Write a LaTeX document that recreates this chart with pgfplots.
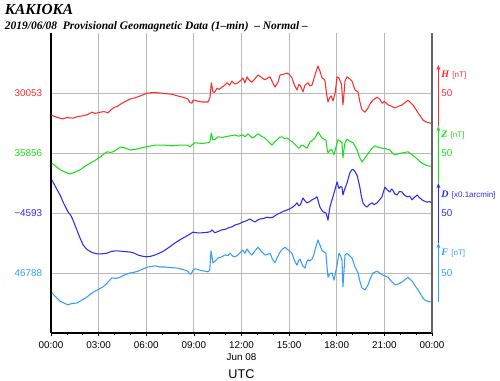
\documentclass[border=0pt]{standalone}
\usepackage{pgfplots}
\pgfplotsset{compat=1.18}
\usetikzlibrary{arrows.meta}
\usepackage{fontspec}
\setmainfont{Liberation Serif}
\setsansfont{Liberation Sans}
\definecolor{hcol}{RGB}{255,45,45}
\definecolor{zcol}{RGB}{25,225,25}
\definecolor{dcol}{RGB}{45,45,240}
\definecolor{fcol}{RGB}{55,155,255}
\definecolor{gridc}{RGB}{185,185,185}
\definecolor{rgrey}{RGB}{100,100,100}
\begin{document}
\begin{tikzpicture}
\useasboundingbox (0,0) rectangle (375pt,285.75pt);
\node[anchor=base west, inner sep=0, font=\bfseries\itshape\fontsize{11.5}{12}\selectfont] at (3.5pt,275pt) {KAKIOKA};
\node[anchor=base west, inner sep=0, font=\bfseries\itshape\fontsize{8.6}{10}\selectfont] at (3.5pt,263.5pt) {2019/06/08\ \ Provisional Geomagnetic Data (1–min)\ \ – Normal –};
\begin{axis}[
  at={(38.25pt,36pt)}, anchor=south west,
  scale only axis, width=285.75pt, height=225pt,
  xmin=0, xmax=24, ymin=0, ymax=500,
  axis x line*=bottom, axis y line*=left,
  axis line style={black, line width=0.9pt},
  xtick={0,3,6,9,12,15,18,21,24},
  xticklabels={00:00,03:00,06:00,09:00,12:00,15:00,18:00,21:00,00:00},
  minor x tick num=2,
  ytick={100,200,300,400},
  yticklabels={\textcolor{fcol}{46788},\textcolor{dcol}{−4593},\textcolor{zcol}{35856},\textcolor{hcol}{30053}},
  tick align=outside,
  major tick length=2.6pt, minor tick length=1.5pt,
  tick style={black, line width=0.5pt},
  ytick style={draw=none},
  grid=major,
  major grid style={gridc, line width=0.7pt},
  tick label style={font=\sffamily\fontsize{7.4}{9}\selectfont},
  xticklabel style={yshift=-0.5pt},
  yticklabel style={xshift=-0.5pt},
  xlabel={UTC},
  xlabel style={font=\sffamily\fontsize{9.5}{11}\selectfont, yshift=-8.5pt},
  clip=false,
  every axis plot/.append style={line width=0.8pt, line join=round},
]
\addplot[hcol] coordinates {
(0.04,363) (0.3,360) (0.57,358) (0.76,357) (1.0,359) (1.39,358) (1.7,361) (2.02,362) (2.3,364) (2.58,368) (2.8,366) (3.09,368) (3.35,369) (3.59,367) (3.91,375)
(4.2,378) (4.47,383) (4.7,386) (4.98,390) (5.3,392) (5.61,395) (5.9,398) (6.11,400) (6.55,401) (7.18,399) (7.6,398) (8.0,395) (8.3,393) (8.63,390) (8.75,384) (8.88,383) (8.95,388) (9.07,388) (9.3,386) (9.51,385) (9.89,385) (10.02,393) (10.1,417) (10.2,402) (10.3,401) (10.46,408) (10.6,406) (10.77,410) (10.9,412) (11.09,417) (11.25,413) (11.40,420) (11.59,415) (11.78,417) (11.95,421) (12.09,425)
(12.22,417) (12.35,427) (12.5,421) (12.66,418) (12.85,424) (13.04,430) (13.25,426) (13.48,422) (13.65,425) (13.80,427) (13.95,418) (14.11,410) (14.3,418) (14.43,430) (14.6,431) (14.87,433) (15.05,430) (15.18,425) (15.35,412) (15.50,405) (15.6,414) (15.69,413) (15.87,402) (16.0,413) (16.19,417) (16.3,412) (16.44,413) (16.63,430) (16.75,440) (16.82,445) (16.95,436) (17.07,425) (17.2,423) (17.26,420) (17.36,398) (17.45,385) (17.57,393) (17.65,395) (17.76,387) (17.9,400) (18.02,427) (18.14,425) (18.3,414) (18.39,380) (18.46,400) (18.52,420) (18.65,427) (18.8,424) (18.96,420) (19.15,405) (19.34,402) (19.46,385) (19.59,372) (19.78,368) (19.97,375) (20.1,382) (20.28,388) (20.54,393) (20.7,390) (20.85,383) (21.0,386) (21.23,380) (21.45,378) (21.67,375) (21.9,378) (22.11,380) (22.3,384) (22.49,388) (22.65,384) (22.80,380) (22.95,374) (23.12,367) (23.3,360) (23.43,355) (23.6,352) (23.87,350) (24.0,349)};
\addplot[zcol] coordinates {
(0.06,283) (0.3,278) (0.57,272) (0.9,268) (1.20,265) (1.5,268) (1.83,272) (2.1,277) (2.46,283) (2.8,288) (3.09,293) (3.3,298) (3.53,302) (3.75,301) (3.91,302) (4.15,306) (4.35,310) (4.6,309) (4.98,305) (5.3,306) (5.61,308) (6.11,311) (6.55,313) (7.18,313) (7.6,312) (8.0,313) (8.4,313) (8.63,313) (8.76,310) (8.9,314) (9.07,317) (9.5,316) (9.89,317) (10.0,318) (10.1,333) (10.2,322) (10.35,323) (10.52,327) (10.8,326) (11.15,328) (11.4,329) (11.59,330) (11.8,328) (12.09,330)
(12.22,327) (12.41,332) (12.55,328) (12.72,325) (12.9,329) (13.04,332) (13.25,328) (13.48,325) (13.7,319) (13.92,313) (14.08,318) (14.24,322) (14.4,326) (14.55,327) (14.7,324) (14.87,325) (15.05,321) (15.24,318) (15.45,312) (15.62,308) (15.75,312) (15.87,313) (16.0,310) (16.13,308) (16.31,318) (16.5,322) (16.63,325) (16.75,331) (16.82,335) (16.95,330) (17.07,325) (17.2,323) (17.32,322) (17.4,306) (17.45,300) (17.6,306) (17.70,305) (17.83,297) (17.95,310) (18.08,322) (18.2,320) (18.33,317) (18.39,292) (18.45,305) (18.52,317) (18.65,323) (18.8,320) (19.02,317) (19.15,312) (19.28,305) (19.45,292) (19.59,285) (19.78,292) (20.0,300) (20.22,308) (20.41,312) (20.6,310) (20.85,308) (21.1,307) (21.35,305) (21.5,300) (21.67,297) (21.9,299) (22.11,300) (22.3,301) (22.49,302) (22.7,298) (22.93,293) (23.15,288) (23.37,283) (23.6,280) (23.87,278) (24.0,278)};
\addplot[dcol] coordinates {
(0.06,255) (0.3,243) (0.57,230) (0.8,216) (1.07,202) (1.25,196) (1.39,188) (1.55,177) (1.70,167) (1.85,157) (2.02,147) (2.2,141) (2.33,138) (2.6,134) (2.90,132) (3.2,132) (3.53,133) (3.8,136) (4.16,137) (4.5,136) (4.98,135) (5.25,133) (5.48,130) (5.75,128) (6.05,127) (6.3,128) (6.55,130) (6.9,134) (7.18,138) (7.5,144) (7.81,150) (8.1,155) (8.44,160) (8.7,164) (8.94,168) (9.2,167) (9.51,167) (9.89,168) (10.05,169) (10.14,172) (10.25,169) (10.33,167) (10.5,169) (10.77,172) (11.0,173) (11.15,175) (11.4,177) (11.59,180) (11.85,182) (12.09,185) (12.3,187) (12.54,190) (12.7,187) (12.85,185) (13.0,188) (13.17,190) (13.4,191) (13.61,193) (13.8,192) (13.98,193) (14.2,197) (14.43,200) (14.65,203) (14.87,205) (15.05,207) (15.24,210) (15.40,214) (15.50,217) (15.6,212) (15.69,213) (15.8,220) (15.87,225) (16.0,220) (16.13,217) (16.3,219) (16.44,222) (16.6,224) (16.76,227) (16.85,218) (16.94,210) (17.05,205) (17.13,202) (17.25,201) (17.32,200) (17.4,193) (17.45,188) (17.51,200) (17.57,210) (17.68,220) (17.76,227) (17.9,240) (18.02,252) (18.08,246) (18.14,241) (18.25,244) (18.33,243) (18.39,230) (18.5,240) (18.65,250) (18.75,260) (18.83,267) (18.92,271) (19.02,273) (19.15,269) (19.28,263) (19.38,252) (19.46,242) (19.55,228) (19.65,217) (19.78,212) (19.91,210) (20.05,214) (20.22,217) (20.35,214) (20.54,217) (20.7,222) (20.85,227) (20.95,236) (21.04,243) (21.2,238) (21.35,235) (21.45,240) (21.54,238) (21.65,232) (21.80,230) (21.95,236) (22.11,235) (22.25,230) (22.43,227) (22.6,228) (22.74,222) (22.9,226) (23.06,230) (23.2,226) (23.37,222) (23.5,220) (23.69,218) (23.85,219) (24.0,217)};
\addplot[fcol] coordinates {
(0.06,67) (0.3,60) (0.57,53) (0.8,50) (1.07,47) (1.3,49) (1.64,50) (1.95,55) (2.27,60) (2.45,64) (2.65,68) (2.95,72) (3.28,77) (3.5,82) (3.84,92) (4.1,91) (4.35,93) (4.65,97) (4.98,100) (5.2,101) (5.48,103) (5.8,107) (6.11,110) (6.55,112) (6.9,110) (7.18,110) (7.6,109) (8.0,108) (8.3,106) (8.63,103) (8.72,99) (8.82,98) (8.95,105) (9.07,107) (9.5,104) (9.89,102) (10.0,105) (10.08,137) (10.2,117) (10.35,120) (10.52,125) (10.75,127) (10.96,130) (11.15,129) (11.28,133) (11.45,128) (11.59,127) (11.78,130) (11.95,135) (12.09,138)
(12.22,133) (12.35,140) (12.5,134) (12.66,130) (12.85,137) (13.04,143) (13.25,136) (13.48,130) (13.65,131) (13.80,133) (13.95,123) (14.11,117) (14.25,126) (14.43,135) (14.6,140) (14.74,143) (14.95,138) (15.18,133) (15.35,120) (15.50,113) (15.6,121) (15.69,123) (15.85,112) (16.0,108) (16.1,118) (16.19,122) (16.3,120) (16.44,123) (16.55,130) (16.63,138) (16.72,147) (16.82,155) (16.95,146) (17.07,138) (17.2,135) (17.32,133) (17.38,112) (17.45,93) (17.57,99) (17.70,100) (17.83,88) (17.92,100) (18.02,113) (18.14,133) (18.25,128) (18.33,122) (18.39,77) (18.45,100) (18.52,130) (18.65,133) (18.8,129) (18.96,125) (19.15,110) (19.34,100) (19.46,86) (19.59,75) (19.78,72) (19.97,80) (20.1,90) (20.28,100) (20.54,103) (20.7,100) (20.85,97) (21.05,95) (21.23,93) (21.45,86) (21.67,80) (21.9,82) (22.11,85) (22.3,89) (22.49,93) (22.65,89) (22.80,85) (22.95,78) (23.12,72) (23.3,64) (23.43,58) (23.6,54) (23.87,52) (24.0,52)};
% right-hand axis line and component scale bars
\draw[rgrey, line width=1.4pt] (rel axis cs:1,0) -- (rel axis cs:1,1);
\draw[hcol, line width=0.7pt, -{Stealth[length=4pt,width=3pt]}] ([xshift=4.8pt]axis cs:24,345) -- ([xshift=4.8pt]axis cs:24,447);
\draw[zcol, line width=0.7pt, -{Stealth[length=4pt,width=3pt]}] ([xshift=4.8pt]axis cs:24,250) -- ([xshift=4.8pt]axis cs:24,345);
\draw[dcol, line width=0.7pt, -{Stealth[length=4pt,width=3pt]}] ([xshift=4.8pt]axis cs:24,150) -- ([xshift=4.8pt]axis cs:24,250);
\draw[fcol, line width=0.7pt, -{Stealth[length=4pt,width=3pt]}] ([xshift=4.8pt]axis cs:24,52) -- ([xshift=4.8pt]axis cs:24,150);
\foreach \yy/\cc in {400/hcol,300/zcol,200/dcol,100/fcol}{
  \edef\tmp{\noexpand\node[anchor=west, inner sep=0, text=\cc, font=\noexpand\sffamily\noexpand\fontsize{7.4}{9}\noexpand\selectfont] at ([xshift=6.8pt]axis cs:24,\yy) {50};}
  \tmp
}
\node[anchor=west, inner sep=0, text=hcol] at ([xshift=6.8pt]axis cs:24,430) {{\bfseries\itshape\fontsize{7.5}{9}\selectfont H} {\sffamily\fontsize{6}{7}\selectfont[nT]}};
\node[anchor=west, inner sep=0, text=zcol] at ([xshift=6.8pt]axis cs:24,330) {{\bfseries\itshape\fontsize{7.5}{9}\selectfont Z} {\sffamily\fontsize{6}{7}\selectfont[nT]}};
\node[anchor=west, inner sep=0, text=dcol] at ([xshift=6.8pt]axis cs:24,230) {{\bfseries\itshape\fontsize{7.5}{9}\selectfont D} {\sffamily\fontsize{6}{7}\selectfont[x0.1arcmin]}};
\node[anchor=west, inner sep=0, text=fcol] at ([xshift=6.8pt]axis cs:24,133) {{\bfseries\itshape\fontsize{7.5}{9}\selectfont F} {\sffamily\fontsize{6}{7}\selectfont[nT]}};
\node[anchor=base, inner sep=0, font=\sffamily\fontsize{7.4}{9}\selectfont] at ([yshift=-21pt]axis cs:12,0) {Jun 08};
\end{axis}
\end{tikzpicture}
\end{document}
